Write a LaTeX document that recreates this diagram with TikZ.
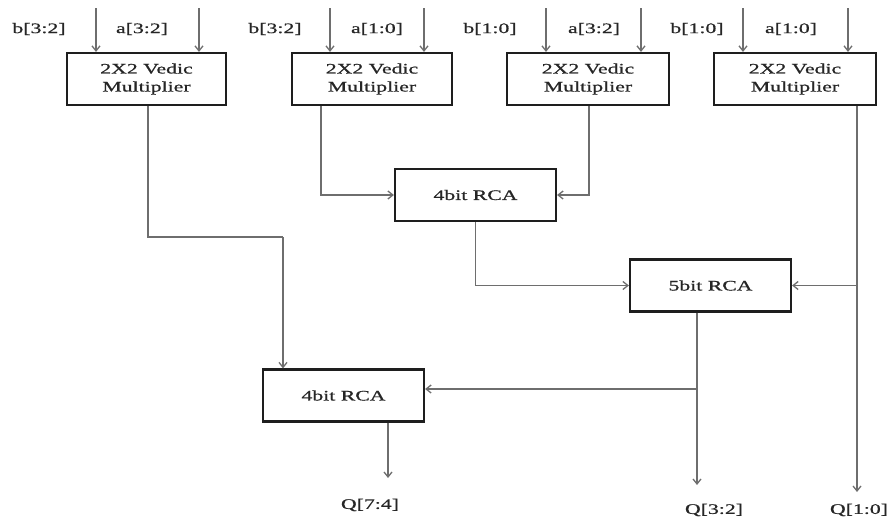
\documentclass[tikz,border=0pt]{standalone}
\usepackage{fontspec}
\setmainfont{Liberation Serif}[FakeStretch=1.5,FakeBold=0.8]
\usepackage{tikz}
\usetikzlibrary{arrows.meta}
\definecolor{kutuCizgi}{HTML}{1E1E1E}
\definecolor{telGri}{HTML}{6E6E6E}
\definecolor{yaziKoyu}{HTML}{262626}

\begin{document}
\begin{tikzpicture}[x=1pt,y=-1pt,
  blok/.style={draw=kutuCizgi,line width=2.2pt,fill=white,text=yaziKoyu,
    minimum height=52pt,align=center,font=\fontsize{14.5}{18}\selectfont},
  tel/.style={draw=telGri,line width=1.3pt},
  ok/.style={tel,-{Straight Barb[length=5pt,width=8pt]}},
  etiket/.style={text=yaziKoyu,font=\fontsize{14.5}{18}\selectfont,inner sep=0pt}]
\useasboundingbox (0,0) rectangle (892,522);
% carpicilar
\node[blok,minimum width=159pt] (m1) at (146.5,79) {2X2 Vedic\\Multiplier};
\node[blok,minimum width=160pt] (m2) at (372,79) {2X2 Vedic\\Multiplier};
\node[blok,minimum width=162pt] (m3) at (588,79) {2X2 Vedic\\Multiplier};
\node[blok,minimum width=162pt] (m4) at (795,79) {2X2 Vedic\\Multiplier};
% toplayicilar
\node[blok,minimum width=161pt] (rcaA) at (475.5,195) {4bit RCA};
\node[blok,minimum width=161pt] (rcaB) at (710.5,285.5) {5bit RCA};
\node[blok,minimum width=161pt] (rcaC) at (343.5,395.5) {4bit RCA};
% girisler
\foreach \x/\m [count=\i] in {96/m1,199/m1,330/m2,424/m2,546/m3,641/m3,743/m4,848/m4} {
  \coordinate (g\i) at (\x,8);
  \draw[ok] (g\i) -- (g\i |- \m.north);
}
\foreach \x/\t [count=\i] in {39/{b[3:2]},142/{a[3:2]},275/{b[3:2]},377/{a[1:0]},
    490/{b[1:0]},594/{a[3:2]},697/{b[1:0]},791/{a[1:0]}}
  \node[etiket] (e\i) at (\x,29) {\t};
% baglantilar
\coordinate (k1) at (283,237);
\draw[tel] ([xshift=1.5pt]m1.south) |- (k1);
\draw[ok] (k1) -- (k1 |- rcaC.north);
\draw[ok] ([xshift=-51pt]m2.south) |- (rcaA.west);
\draw[ok] ([xshift=1pt]m3.south) |- (rcaA.east);
\draw[ok] (rcaA.south) |- (rcaB.west);
% cikislar
\coordinate (q0) at (857,492);
\coordinate (q2) at (697,485);
\coordinate (q4) at (388,478);
\draw[ok] (q0 |- m4.south) -- (q0);
\draw[ok] (rcaB.east -| q0) -- (rcaB.east);
\draw[ok] (q2 |- rcaB.south) -- (q2);
\coordinate (k2) at (697,389);
\draw[ok] (k2) -- (k2 -| rcaC.east);
\draw[ok] (q4 |- rcaC.south) -- (q4);
\node[etiket] (s4) at (370,505) {Q[7:4]};
\node[etiket] (s2) at (714,510) {Q[3:2]};
\node[etiket] (s0) at (859,510) {Q[1:0]};
\end{tikzpicture}
\end{document}
